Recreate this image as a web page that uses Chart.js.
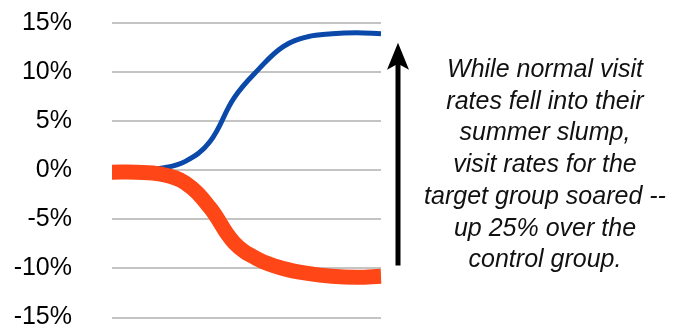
<!DOCTYPE html>
<html>
<head>
<meta charset="utf-8">
<script src="https://cdn.jsdelivr.net/npm/chart.js"></script>
<style>
  html, body { margin: 0; padding: 0; background: #fff; }
  #wrap { width: 686px; height: 330px; }
</style>
</head>
<body>
<div id="wrap"><canvas id="myChart"></canvas></div>
<script>
// weeks across the summer (x axis is hidden in the original)
const weeks = ['1', '2', '3', '4', '5', '6', '7', '8', '9', '10', '11', '12'];
// target group vs. control group, change in visit rate (%)
const targetGroup = [0, 0, 0.2, 0.9, 2.9, 7.4, 10.3, 12.6, 13.6, 13.9, 14.0, 13.9];
const controlGroup = [-0.2, -0.2, -0.4, -1.3, -3.8, -7.4, -9.1, -10.0, -10.5, -10.8, -10.9, -10.8];
const yTicks = [-15, -10, -5, 0, 5, 10, 15];
// arrow spans from the control end up to the target end
const arrowFrom = -9.7;
const arrowTo = 13.0;
const note = [
  'While normal visit',
  'rates fell into their',
  'summer slump,',
  'visit rates for the',
  'target group soared --',
  'up 25% over the',
  'control group.'
];

const noteAndArrow = {
  id: 'noteAndArrow',
  afterDraw(chart) {
    const c = chart.ctx;
    const y = chart.scales.y;
    const x = chart.chartArea.right + 17;
    const yb = y.getPixelForValue(arrowFrom);
    const yt = y.getPixelForValue(arrowTo);
    c.save();
    c.strokeStyle = '#000';
    c.fillStyle = '#000';
    c.lineWidth = 5;
    c.beginPath();
    c.moveTo(x, yb);
    c.lineTo(x, yt + 20);
    c.stroke();
    c.beginPath();
    c.moveTo(x, yt);
    c.lineTo(x - 11, yt + 27);
    c.lineTo(x, yt + 21);
    c.lineTo(x + 11, yt + 27);
    c.closePath();
    c.fill();

    c.font = 'italic 25px "Liberation Sans", Arial, sans-serif';
    c.textAlign = 'center';
    c.textBaseline = 'alphabetic';
    c.fillStyle = '#111';
    note.forEach((line, i) => {
      c.fillText(line, 545, 77 + i * 31.7);
    });
    c.restore();
  }
};

new Chart(document.getElementById('myChart'), {
  type: 'line',
  data: {
    labels: weeks,
    datasets: [{
      label: 'Control group',
      data: controlGroup,
      borderColor: '#ff4616',
      borderWidth: 15,
      pointRadius: 0,
      tension: 0.4
    }, {
      label: 'Target group',
      data: targetGroup,
      borderColor: '#0a49a9',
      borderWidth: 5,
      pointRadius: 0,
      tension: 0.4
    }]
  },
  options: {
    responsive: true,
    maintainAspectRatio: false,
    animation: false,
    layout: { padding: { top: 23, right: 305, bottom: 12, left: 0 } },
    plugins: { legend: { display: false }, tooltip: { enabled: false } },
    scales: {
      x: { display: false },
      y: {
        min: -15,
        max: 15,
        afterFit(scale) { scale.width = 112; },
        afterBuildTicks(scale) { scale.ticks = yTicks.map(v => ({ value: v })); },
        border: { display: false },
        // invisible tick marks push the labels left without adding vertical padding
        grid: { color: '#c4c4c4', lineWidth: 2, drawTicks: true, tickLength: 40, tickColor: 'rgba(0,0,0,0)' },
        ticks: {
          padding: 0,
          color: '#000',
          font: { family: '"Liberation Sans", Arial, sans-serif', size: 25, lineHeight: 1 },
          callback: v => v + '%'
        }
      }
    }
  },
  plugins: [noteAndArrow]
});
</script>
</body>
</html>
